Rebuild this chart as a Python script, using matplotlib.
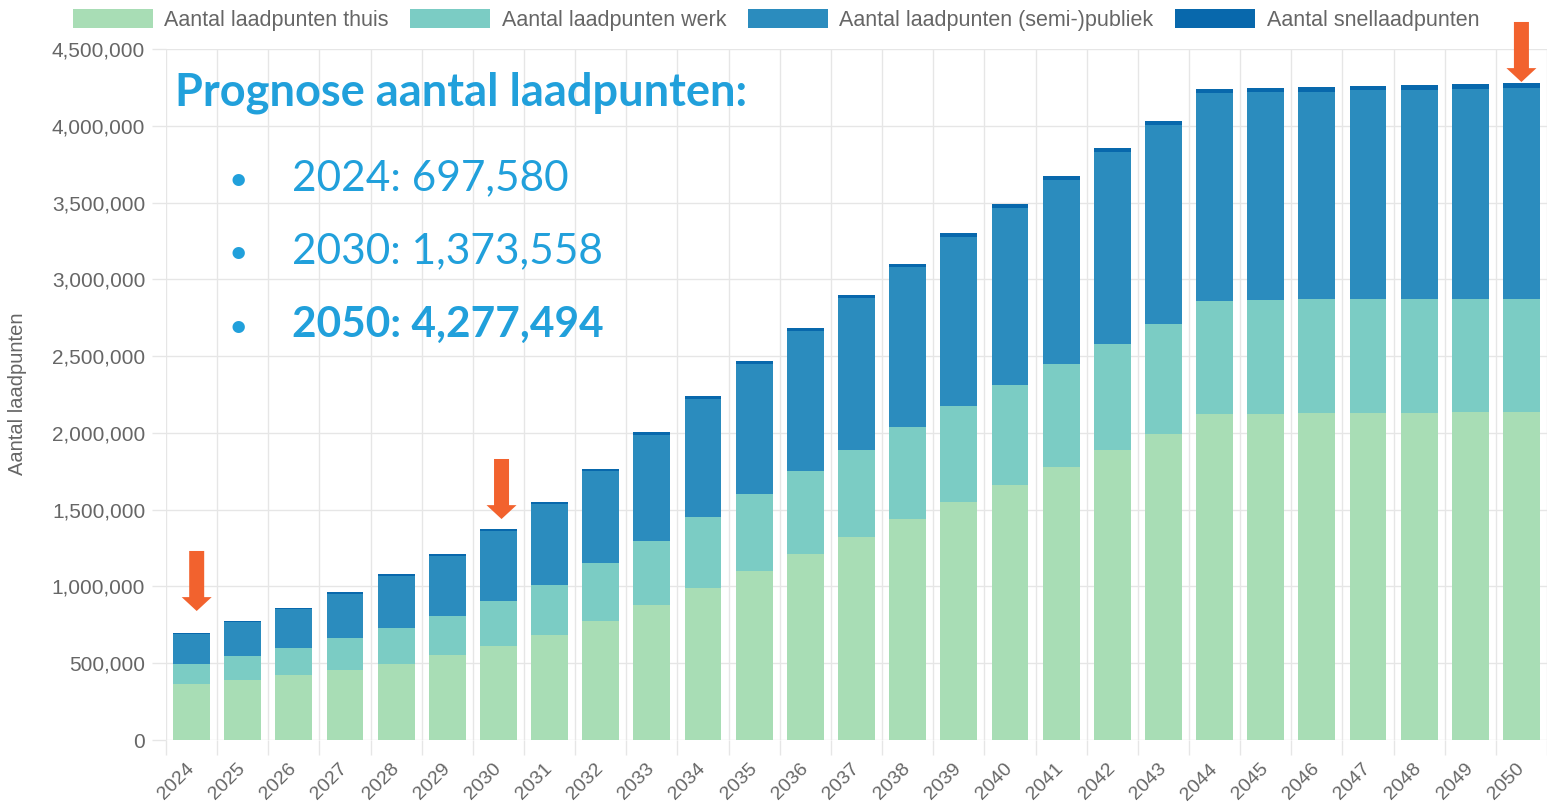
import matplotlib.pyplot as plt
from matplotlib.ticker import FuncFormatter, MultipleLocator
import numpy as np

plt.rcParams['font.family'] = ['Liberation Sans', 'DejaVu Sans']

jaren = [2024, 2025, 2026, 2027, 2028, 2029, 2030, 2031, 2032, 2033, 2034, 2035, 2036, 2037,
         2038, 2039, 2040, 2041, 2042, 2043, 2044, 2045, 2046, 2047, 2048, 2049, 2050]

thuis = [365000, 389000, 422000, 454000, 498000, 552000, 609000, 684000, 775000, 879000,
         990000, 1100000, 1211000, 1322000, 1439000, 1550000, 1661000, 1778000, 1888000,
         1993000, 2123000, 2126000, 2129000, 2131000, 2132000, 2133000, 2134000]
werk = [133000, 157000, 180000, 207000, 230000, 255000, 293000, 325000, 377000, 417000,
        462000, 502000, 541000, 566000, 599000, 625000, 651000, 671000, 691000, 716000,
        736000, 739000, 743000, 741000, 741000, 741000, 740000]
semi_publiek = [194580, 220000, 252000, 293000, 340000, 394000, 458558, 526000, 597000, 693000,
                770000, 847000, 911000, 989000, 1040000, 1103000, 1154000, 1199000, 1250000,
                1294000, 1352000, 1353000, 1351000, 1358000, 1363000, 1366000, 1373494]
snel = [5000, 6000, 7000, 9000, 10000, 12000, 13000, 15000, 16000, 17000, 18000, 19000, 20000,
        21000, 22000, 23000, 24000, 25000, 26000, 28000, 28000, 28000, 29000, 29000, 29000,
        30000, 30000]

labels = ['Aantal laadpunten thuis', 'Aantal laadpunten werk',
          'Aantal laadpunten (semi-)publiek', 'Aantal snellaadpunten']
kleuren = ['#a8ddb5', '#7bccc4', '#2b8cbe', '#0868ac']

# pijlen: (x-positie, staart, punt)
pijlen = [(0.1, 1231000, 840000), (6.06, 1830000, 1439000), (26.0, 4676000, 4285000)]

W, H = 1547, 811
fig = plt.figure(figsize=(W / 100, H / 100), dpi=100)
ax = fig.add_axes([166 / W, 1 - 740 / H, 1381 / W, 691 / H])

x = np.arange(len(jaren))
bottom = np.zeros(len(jaren))
for reeks, kleur, label in zip([thuis, werk, semi_publiek, snel], kleuren, labels):
    ax.bar(x, reeks, 0.72, bottom=bottom, color=kleur, label=label, zorder=2)
    bottom += np.array(reeks)

ax.set_xlim(-0.5, 26.37)
ax.set_ylim(0, 4500000)
for s in ax.spines.values():
    s.set_visible(False)

grijs = '#e6e6e6'
ax.yaxis.set_major_locator(MultipleLocator(500000))
ax.yaxis.set_major_formatter(FuncFormatter(lambda v, _: f'{v:,.0f}'))
ax.set_xticks(x)
ax.set_xticklabels([str(j) for j in jaren], rotation=45, ha='right', va='center',
                   rotation_mode='anchor')
ax.set_xticks(np.arange(-0.5, len(jaren), 1), minor=True)
ax.tick_params(axis='x', which='major', length=0, pad=19, labelsize=14, labelcolor='#666666')
ax.tick_params(axis='x', which='minor', length=11, width=1, color=grijs)
ax.tick_params(axis='y', length=10, width=1, color=grijs, pad=5, labelsize=15,
               labelcolor='#666666')
ax.grid(axis='y', which='major', color=grijs, lw=1)
ax.grid(axis='x', which='minor', color=grijs, lw=1)
ax.set_axisbelow(True)

fig.text(18 / W, 1 - 394 / H, 'Aantal laadpunten', rotation=90, ha='center', va='center',
         fontsize=14.5, color='#666666')

fig.legend(loc='center', bbox_to_anchor=(776 / W, 1 - 20 / H), ncol=4, frameon=False,
           fontsize=15.5, handlelength=3.7, handleheight=1.0, handletextpad=0.55,
           columnspacing=1.0, labelcolor='#666666', borderaxespad=0)

oranje = '#f2622e'
for xp, staart, punt in pijlen:
    ax.annotate('', xy=(xp, punt), xytext=(xp, staart), annotation_clip=False,
                arrowprops=dict(arrowstyle='simple,head_length=1.0,head_width=2.16,tail_width=1.08',
                                mutation_scale=10, fc=oranje, ec='none', shrinkA=0, shrinkB=0,
                                clip_on=False))

blauw = '#21a0db'
fig.text(175 / W, 1 - 105 / H, 'Prognose aantal laadpunten:', family='Lato', weight='bold',
         fontsize=32.5, color=blauw, va='baseline')
regels = [('2024: 697,580', 'normal', 190), ('2030: 1,373,558', 'normal', 263),
          ('2050: 4,277,494', 'bold', 337)]
for tekst, gewicht, basis in regels:
    fig.text(238 / W, 1 - basis / H, '\u2022', family='Lato', fontsize=24, color=blauw,
             ha='center', va='baseline')
    fig.text(292 / W, 1 - basis / H, tekst, family='Lato', weight=gewicht, fontsize=30.5,
             color=blauw, va='baseline')

fig.savefig('out.png', dpi=100)
